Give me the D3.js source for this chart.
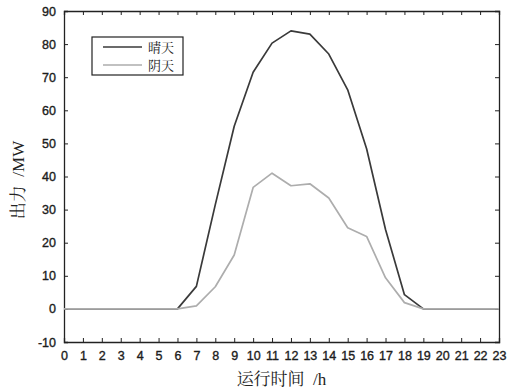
<!DOCTYPE html>
<html>
<head>
<meta charset="utf-8">
<script src="https://cdn.jsdelivr.net/npm/d3@7"></script>
<style>
  body { margin: 0; background: #fff; }
  text { fill: #222; }
</style>
</head>
<body>
<svg id="canvas" width="521" height="390"></svg>
<script>
const hours = d3.range(0, 24);
const sunny = [0, 0, 0, 0, 0, 0, 0, 6.8, 31.5, 55.2, 71.5, 80.3, 84, 83, 77, 66.2, 48.4, 24, 4.3, 0, 0, 0, 0, 0];
const cloudy = [0, 0, 0, 0, 0, 0, 0, 0.9, 6.7, 16.3, 36.7, 41, 37.2, 37.8, 33.5, 24.5, 21.9, 9.4, 1.9, 0, 0, 0, 0, 0];
const yTicks = d3.range(-10, 91, 10);
const seriesNames = ['晴天', '阴天'];
const seriesColors = ['#3a3a3a', '#adadad'];

const canvas = d3.select('#canvas');
const plotL = 64, plotR = 499, plotT = 11, plotB = 342;

const x = d3.scaleLinear().domain([0, 23]).range([plotL, plotR]);
const y = d3.scaleLinear().domain([-10, 90]).range([plotB, plotT]);

const tickFont = '"Liberation Sans", Arial, sans-serif';
const titleFont = '"Liberation Serif", "Noto Serif CJK SC", "Noto Sans CJK SC", serif';
const plain = d => String(d);

// axes with inward ticks on all sides
const xBottom = canvas.append('g').attr('transform', `translate(0,${plotB})`)
  .call(d3.axisBottom(x).tickValues(hours).tickSize(-4).tickPadding(9).tickFormat(plain));
const xTop = canvas.append('g').attr('transform', `translate(0,${plotT})`)
  .call(d3.axisTop(x).tickValues(hours).tickSize(-4).tickFormat(''));
const yLeft = canvas.append('g').attr('transform', `translate(${plotL},0)`)
  .call(d3.axisLeft(y).tickValues(yTicks).tickSize(-4).tickPadding(8).tickFormat(plain));
const yRight = canvas.append('g').attr('transform', `translate(${plotR},0)`)
  .call(d3.axisRight(y).tickValues(yTicks).tickSize(-4).tickFormat(''));

[xBottom, xTop, yLeft, yRight].forEach(g => {
  g.select('.domain').attr('stroke', '#222').attr('stroke-width', 1.3);
  g.selectAll('.tick line').attr('stroke', '#222').attr('stroke-width', 1);
  g.selectAll('.tick text')
    .style('font-family', tickFont).style('font-size', '12.5px')
    .attr('fill', '#1a1a1a').attr('stroke', '#1a1a1a').attr('stroke-width', 0.35);
});

const line = d3.line().x((d, i) => x(hours[i])).y(d => y(d));

[sunny, cloudy].forEach((s, i) => {
  canvas.append('path')
    .datum(s)
    .attr('d', line)
    .attr('fill', 'none')
    .attr('stroke', seriesColors[i])
    .attr('stroke-width', 1.7)
    .attr('stroke-linejoin', 'round');
});

// legend
const legend = canvas.append('g').attr('transform', 'translate(92,37)');
legend.append('rect')
  .attr('width', 91).attr('height', 38)
  .attr('fill', '#fff').attr('stroke', '#222').attr('stroke-width', 1.2);
seriesNames.forEach((name, i) => {
  legend.append('line')
    .attr('x1', 11).attr('x2', 50)
    .attr('y1', 10 + i * 18).attr('y2', 10 + i * 18)
    .attr('stroke', seriesColors[i]).attr('stroke-width', 1.7);
  legend.append('text')
    .attr('x', 56).attr('y', 15 + i * 18)
    .style('font-family', titleFont).style('font-size', '13px')
    .text(name);
});

// axis titles
canvas.append('text')
  .attr('x', (plotL + plotR) / 2).attr('y', 385)
  .attr('text-anchor', 'middle')
  .style('font-family', titleFont).style('font-size', '17px')
  .text('运行时间\u2002/h');

canvas.append('text')
  .attr('transform', `translate(24,180) rotate(-90)`)
  .attr('text-anchor', 'middle')
  .style('font-family', titleFont).style('font-size', '17px')
  .text('出力\u2002/MW');
</script>
</body>
</html>
